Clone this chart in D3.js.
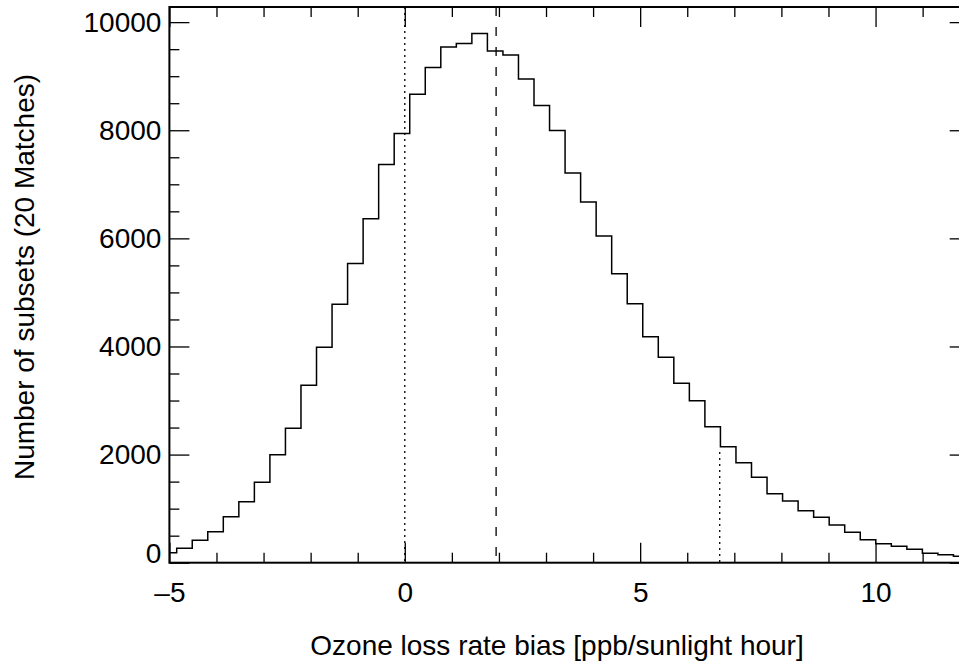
<!DOCTYPE html>
<html>
<head>
<meta charset="utf-8">
<script src="https://cdn.jsdelivr.net/npm/d3@7"></script>
<style>
    body { margin: 0; background: #fff; }
    svg { display: block; font-family: "Liberation Sans", Arial, Helvetica, sans-serif; }
    .domain, .tick line { stroke: #000; }
</style>
</head>
<body>
<svg width="959" height="662"></svg>
<script>

// histogram counts, one per bin (first and last bins are cut by the axes)
var counts = [185, 266, 414, 573, 851, 1128, 1487, 1997, 2486, 3281,
    3984, 4779, 5537, 6362, 7368, 7941, 8668, 9160, 9538, 9606,
    9791, 9464, 9390, 8946, 8459, 7997, 7210, 6671, 6042, 5345,
    4790, 4180, 3799, 3318, 2996, 2515, 2145, 1849, 1579, 1276,
    1141, 962, 840, 697, 562, 425, 351, 303, 248, 174,
    148, 118];
var firstEdge = -5.175;
var binWidth = 0.33;

var xMajor = [-5, 0, 5, 10];
var xMinor = [-4, -3, -2, -1, 1, 2, 3, 4, 6, 7, 8, 9, 11];
var yMajor = [0, 2000, 4000, 6000, 8000, 10000];
var yMinor = [500, 1000, 1500, 2500, 3000, 3500, 4500, 5000, 5500,
    6500, 7000, 7500, 8500, 9000, 9500];

// vertical marker lines: top is a count, or null for full height
var markers = [
    {x: 0, top: null, dash: "2,4"},
    {x: 1.94, top: null, dash: "9,11"},
    {x: 6.69, top: 2050, dash: "2,4"}
];

var xTitle = "Ozone loss rate bias [ppb/sunlight hour]";
var yTitle = "Number of subsets (20 Matches)";

(function () {
    var svg = d3.select("svg"),
            pLeft = 169.4, pRight = 969.7, pTop = 7, pBottom = 562.7,
            fontSize = 28;

    var x = d3.scaleLinear().domain([-5, 12]).range([pLeft, pRight]);
    var y = d3.scaleLinear().domain([0, 10280]).range([pBottom, pTop]);

    svg.append("defs").append("clipPath").attr("id", "plot")
            .append("rect")
            .attr("x", pLeft).attr("y", pTop)
            .attr("width", pRight - pLeft).attr("height", pBottom - pTop);

    function fmt(d) {
        return d < 0 ? "\u2013" + (-d) : String(d);
    }

    function addAxis(axis, ticks, size, padding, transform) {
        var g = svg.append("g")
                .attr("transform", transform)
                .call(axis.tickValues(ticks).tickSize(-size).tickPadding(padding)
                        .tickFormat(padding ? fmt : ""));
        g.select(".domain").remove();
        g.selectAll(".tick line").attr("stroke-width", 1.3);
        g.selectAll("text").style("font-size", fontSize + "px").attr("fill", "#000");
        return g;
    }

    var bx = "translate(0," + pBottom + ")",
            tx = "translate(0," + pTop + ")",
            ly = "translate(" + pLeft + ",0)",
            ry = "translate(" + pRight + ",0)";

    addAxis(d3.axisBottom(x), xMinor, 10, 0, bx);
    addAxis(d3.axisBottom(x), xMajor, 20, 19, bx);
    addAxis(d3.axisTop(x), xMinor, 10, 0, tx);
    addAxis(d3.axisTop(x), xMajor, 20, 0, tx);
    addAxis(d3.axisLeft(y), yMinor, 10, 0, ly);
    var yl = addAxis(d3.axisLeft(y), yMajor, 20, 8, ly);
    addAxis(d3.axisRight(y), yMinor, 10, 0, ry);
    addAxis(d3.axisRight(y), yMajor, 20, 0, ry);

    // the bottom label sits a bit higher, like the original
    yl.selectAll(".tick text").filter(function (d) { return d === 0; })
            .attr("y", -9);

    // frame
    svg.append("rect")
            .attr("x", pLeft).attr("y", pTop)
            .attr("width", pRight - pLeft).attr("height", pBottom - pTop)
            .attr("fill", "none")
            .attr("stroke", "#000")
            .attr("stroke-width", 2);

    // histogram as steps
    var pts = counts.map(function (c, i) {
        return [firstEdge + i * binWidth, c];
    });
    pts.push([firstEdge + counts.length * binWidth, counts[counts.length - 1]]);

    var line = d3.line()
            .x(function (d) { return x(d[0]); })
            .y(function (d) { return y(d[1]); })
            .curve(d3.curveStepAfter);

    svg.append("path")
            .datum(pts)
            .attr("clip-path", "url(#plot)")
            .attr("d", line)
            .attr("fill", "none")
            .attr("stroke", "#000")
            .attr("stroke-width", 1.5);

    svg.append("g")
            .selectAll("line")
            .data(markers)
            .enter().append("line")
            .attr("x1", function (d) { return x(d.x); })
            .attr("x2", function (d) { return x(d.x); })
            .attr("y1", function (d) { return d.top === null ? pTop : y(d.top); })
            .attr("y2", pBottom)
            .attr("stroke", "#000")
            .attr("stroke-width", 1.3)
            .attr("stroke-dasharray", function (d) { return d.dash; });

    svg.append("text")
            .attr("x", 557)
            .attr("y", 655)
            .attr("text-anchor", "middle")
            .style("font-size", fontSize + "px")
            .text(xTitle);

    svg.append("text")
            .attr("transform", "translate(34,277) rotate(-90)")
            .attr("text-anchor", "middle")
            .style("font-size", fontSize + "px")
            .text(yTitle);
})();

</script>
</body>
</html>
